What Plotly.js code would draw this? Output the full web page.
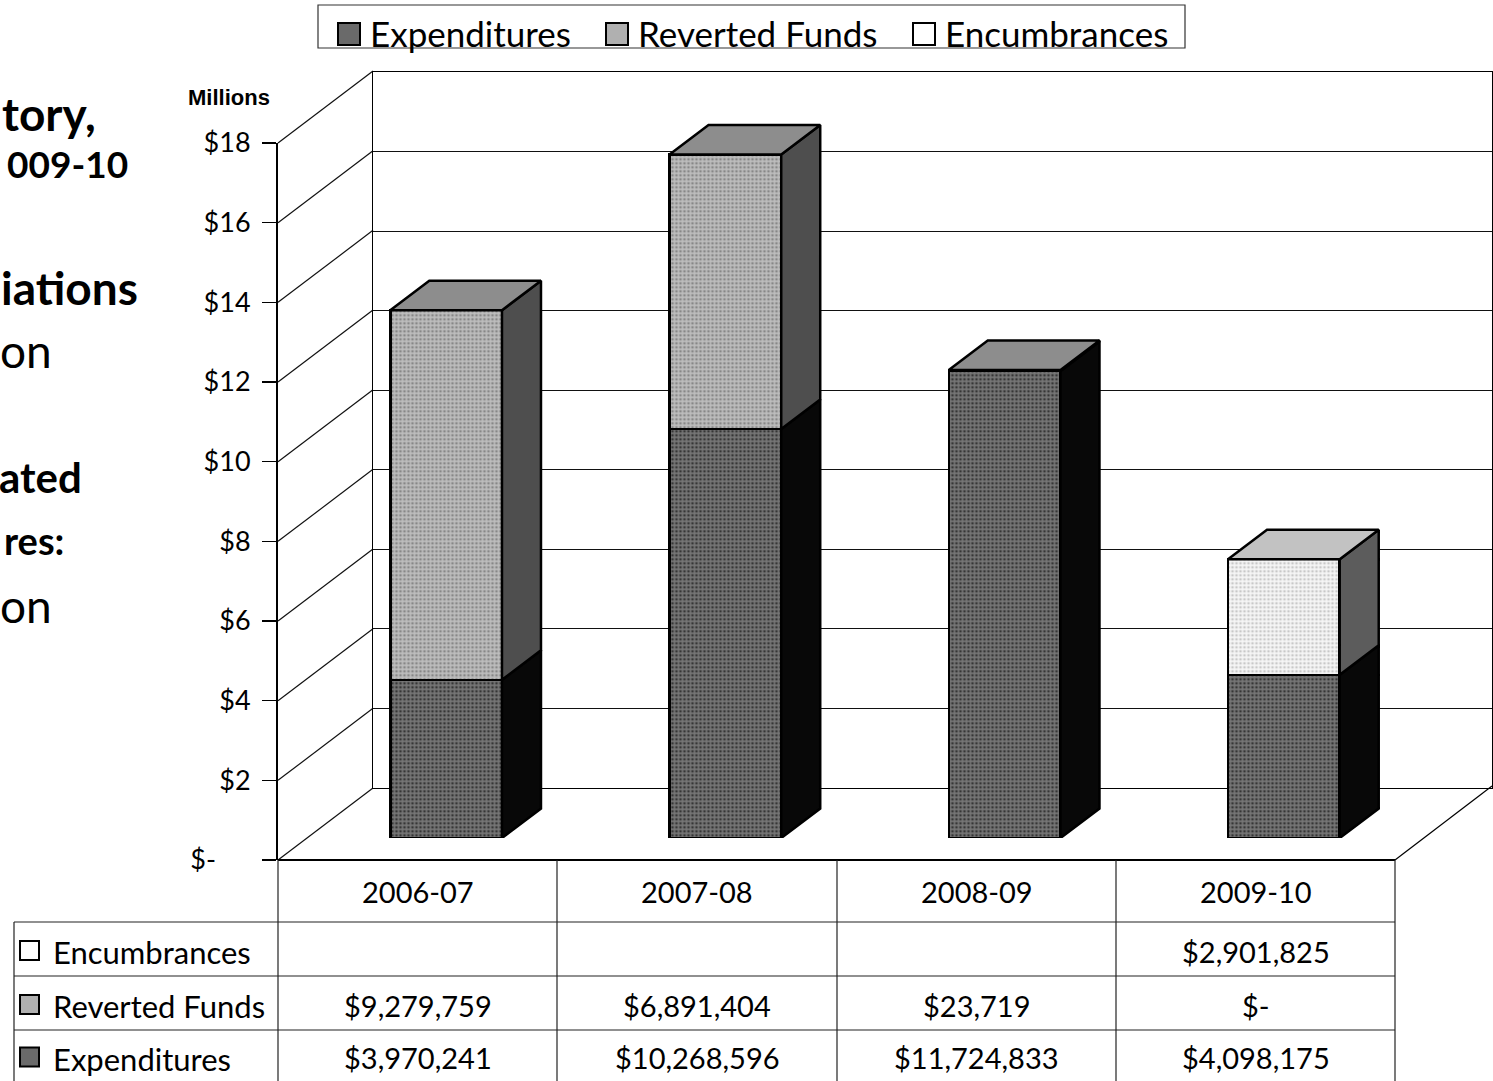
<!DOCTYPE html>
<html><head><meta charset="utf-8">
<script src="https://cdn.plot.ly/plotly-3.0.1.min.js"></script>
<style>html,body{margin:0;padding:0;background:#fff}#chart{width:1493px;height:1081px}</style>
</head><body><div id="chart"></div>
<script>
// ---------------- data ----------------
const categories = ['2006-07', '2007-08', '2008-09', '2009-10'];
const expenditures = [3970241, 10268596, 11724833, 4098175];
const revertedFunds = [9279759, 6891404, 23719, 0];
const encumbrances = [null, null, null, 2901825];
const seriesNames = ['Expenditures', 'Reverted Funds', 'Encumbrances'];
const yTickVals = [0, 2, 4, 6, 8, 10, 12, 14, 16, 18];
const yTickText = ['$-\u00a0\u00a0\u00a0\u00a0\u00a0', '$2', '$4', '$6', '$8', '$10', '$12', '$14', '$16', '$18'];
const axisUnitLabel = 'Millions';
const sideTitleBits = ['tory,', '009-10', 'iations', 'on', 'ated', 'res:', 'on'];

// ---------------- styles / geometry ----------------
const W = 1493, H = 1081;
const px = x => x / W, py = y => 1 - y / H;
const FRONT_LEFT = 278, FRONT_RIGHT = 1395, FRONT_ZERO = 860, FRONT_TOP = 143;
const BACK_LEFT = 373, BACK_RIGHT = 1492, BACK_ZERO = 788, BACK_TOP = 72;
const BAR_ZERO = 838;
const YMAX = 18;
const unitPx = (FRONT_ZERO - FRONT_TOP) / YMAX;
const catPx = (FRONT_RIGHT - FRONT_LEFT) / categories.length;
const barShift = 28.5;
const Y3MAX = 20;
const depthX = 39 / catPx, depthY = 29.5 / unitPx;
const barWidth = 0.4;
const FONT = 'Lato, "Open Sans", sans-serif';

const frontBg = ['#767676', '#bdbdbd', '#f6f6f6'];
const frontFg = ['#363636', '#878787', '#c8c8c8'];
const sideColor = ['#080808', '#4e4e4e', '#5c5c5c'];
const topColor = ['#7a7a7a', '#8d8d8d', '#c2c2c2'];
const keyColor = ['#6a6a6a', '#b0b0b0', '#ffffff'];
const seriesData = [expenditures, revertedFunds, encumbrances];
const idx = categories.map((c, i) => i);

const traces = [];
// front faces: stacked bars
seriesData.forEach((arr, s) => {
  traces.push({
    type: 'bar', name: seriesNames[s], x: idx, y: arr.map(v => v == null ? null : v / 1e6),
    xaxis: 'x3', yaxis: 'y3', width: barWidth, showlegend: false, hoverinfo: 'skip',
    marker: { color: frontBg[s], line: { color: '#000', width: 2.5 },
      pattern: { shape: '.', bgcolor: frontBg[s], fgcolor: frontFg[s], size: 4, solidity: 0.35, fillmode: 'replace' } }
  });
});
// side + top faces
idx.forEach(i => {
  let base = 0, lastS = -1;
  const right = i + barWidth / 2, left = i - barWidth / 2;
  seriesData.forEach((arr, s) => {
    const v = arr[i] == null ? 0 : arr[i] / 1e6;
    if (v <= 0) return;
    const y0 = base, y1 = base + v;
    traces.push({
      type: 'scatter', mode: 'lines', xaxis: 'x3', yaxis: 'y3', showlegend: false, hoverinfo: 'skip',
      x: [right, right + depthX, right + depthX, right, right],
      y: [y0, y0 + depthY, y1 + depthY, y1, y0],
      fill: 'toself', fillcolor: sideColor[s], line: { color: '#000', width: 2.5 }
    });
    base = y1; lastS = s;
  });
  if (lastS >= 0) {
    traces.push({
      type: 'scatter', mode: 'lines', xaxis: 'x3', yaxis: 'y3', showlegend: false, hoverinfo: 'skip',
      x: [left, right, right + depthX, left + depthX, left],
      y: [base, base, base + depthY, base + depthY, base],
      fill: 'toself', fillcolor: topColor[lastS], line: { color: '#000', width: 2.5 }
    });
  }
});
// invisible anchors for back wall and front axis
traces.push({ type: 'scatter', x: [0], y: [0], xaxis: 'x', yaxis: 'y', mode: 'markers', marker: { opacity: 0 }, showlegend: false, hoverinfo: 'skip' });
traces.push({ type: 'scatter', x: [0], y: [0], xaxis: 'x2', yaxis: 'y2', mode: 'markers', marker: { opacity: 0 }, showlegend: false, hoverinfo: 'skip' });

// ---------------- shapes ----------------
const shapes = [];
const line = (x0, y0, x1, y1, w, c) => shapes.push({ type: 'line', xref: 'paper', yref: 'paper', layer: 'below',
  x0: px(x0), y0: py(y0), x1: px(x1), y1: py(y1), line: { color: c || '#000', width: w || 1.2 } });
// left wall diagonals
yTickVals.forEach(v => line(FRONT_LEFT, FRONT_ZERO - v * unitPx, BACK_LEFT, BACK_ZERO - v * unitPx, 1.2, '#111'));
// floor
line(FRONT_LEFT, FRONT_ZERO, FRONT_RIGHT, FRONT_ZERO, 2, '#000');
line(FRONT_RIGHT, FRONT_ZERO, BACK_RIGHT, BACK_ZERO - 2, 1.2, '#000');
// table
const colX = [278, 557, 837, 1116, 1395];
const rowY = [860, 922, 976, 1030, 1081];
colX.forEach(x => line(x, 860, x, H, 1.2, '#222'));
line(14, 922, 14, H, 1.2, '#222');
[922, 976, 1030].forEach(y => line(14, y, 1395, y, 1.2, '#222'));

// legend box
shapes.push({ type: 'rect', xref: 'paper', yref: 'paper', x0: px(318), x1: px(1185), y0: py(5), y1: py(48),
  line: { color: '#333', width: 1.2 }, fillcolor: 'rgba(0,0,0,0)' });

// ---------------- annotations ----------------
const ann = [];
const text = (t, x, y, size, anchor, extra) => ann.push(Object.assign({ text: t, xref: 'paper', yref: 'paper',
  x: px(x), y: py(y), xanchor: anchor || 'center', yanchor: 'middle', showarrow: false,
  font: { family: FONT, size: size, color: '#000' } }, extra || {}));

// legend
const legX = [338, 606, 913];
seriesNames.forEach((n, s) => {
  shapes.push({ type: 'rect', xref: 'paper', yref: 'paper', x0: px(legX[s]), x1: px(legX[s] + 22),
    y0: py(45), y1: py(23), fillcolor: keyColor[s], line: { color: '#000', width: 2 } });
  text(n, legX[s] + 30, 33, 35, 'left');
});

// axis unit
ann.push({ text: '<b>' + axisUnitLabel + '</b>', xref: 'paper', yref: 'paper', x: px(229), y: py(97),
  xanchor: 'center', yanchor: 'middle', showarrow: false, font: { family: '"Liberation Sans", Arial, sans-serif', size: 22, color: '#000' } });

// side title fragments (the slide text continues beyond the left edge)
const sideRight = [98, 130, 140, 54, 84, 66, 54];
const sideSize = [46, 37, 46, 46, 42, 38, 46];
const sideY = [113, 163, 287, 350, 477, 540, 605];
const sideBold = [true, true, true, false, true, true, false];
sideTitleBits.forEach((t, k) => text(sideBold[k] ? '<b>' + t + '</b>' : t, sideRight[k], sideY[k], sideSize[k], 'right'));

// table
const fmt = v => v == null ? '' : (v === 0 ? '$-' : '$' + v.toLocaleString('en-US'));
const colCenters = colX.slice(0, 4).map((x, i) => (x + colX[i + 1]) / 2);
categories.forEach((c, i) => text(c, colCenters[i], 891, 29));
const rowSeries = [2, 1, 0];
rowSeries.forEach((s, r) => {
  const yc = (rowY[r + 1] + rowY[r + 2]) / 2;
  shapes.push({ type: 'rect', xref: 'paper', yref: 'paper', x0: px(20), x1: px(39), y0: py(yc + 11), y1: py(yc - 8),
    fillcolor: keyColor[s], line: { color: '#000', width: 2 } });
  text(seriesNames[s], 51, yc + 3, 31, 'left');
  seriesData[s].forEach((v, i) => text(fmt(v), colCenters[i], yc + 2, 29));
});

const layout = {
  width: W, height: H, autosize: false, margin: { l: 0, r: 0, t: 0, b: 0 },
  paper_bgcolor: '#fff', plot_bgcolor: 'rgba(0,0,0,0)', barmode: 'stack', showlegend: false,
  font: { family: FONT, color: '#000' },
  // back wall
  xaxis: { domain: [px(BACK_LEFT), px(BACK_RIGHT)], range: [0, 1], showgrid: false, zeroline: false,
    showticklabels: false, ticks: '', showline: true, mirror: true, linecolor: '#000', linewidth: 1.2, fixedrange: true },
  yaxis: { domain: [py(BACK_ZERO), py(BACK_TOP)], range: [0, YMAX], tickvals: yTickVals, showgrid: true,
    gridcolor: '#111', gridwidth: 1.2, zeroline: false, showticklabels: false, ticks: '', showline: true, mirror: true,
    linecolor: '#000', linewidth: 1.2, fixedrange: true },
  // front value axis
  xaxis2: { domain: [px(FRONT_LEFT), px(FRONT_RIGHT)], range: [-0.5, 3.5], anchor: 'y2', showgrid: false, zeroline: false,
    showticklabels: false, ticks: '', showline: false, fixedrange: true },
  yaxis2: { domain: [py(FRONT_ZERO), py(FRONT_TOP)], range: [0, YMAX], anchor: 'x2', tickvals: yTickVals, ticktext: yTickText,
    ticks: 'outside', ticklen: 14, tickcolor: '#000', tickwidth: 1.2, showline: true, linecolor: '#000', linewidth: 2,
    ticklabelstandoff: 6,
    showgrid: false, zeroline: false, tickfont: { family: FONT, size: 27, color: '#000' }, fixedrange: true },
  // bar plane
  xaxis3: { domain: [px(FRONT_LEFT + barShift), px(FRONT_RIGHT + barShift)], range: [-0.5, 3.5], anchor: 'y3',
    visible: false, fixedrange: true },
  yaxis3: { domain: [py(BAR_ZERO), py(BAR_ZERO - Y3MAX * unitPx)], range: [0, Y3MAX], anchor: 'x3', visible: false, fixedrange: true },
  shapes: shapes, annotations: ann
};
Plotly.newPlot('chart', traces, layout, { displayModeBar: false, staticPlot: true });
</script></body></html>
